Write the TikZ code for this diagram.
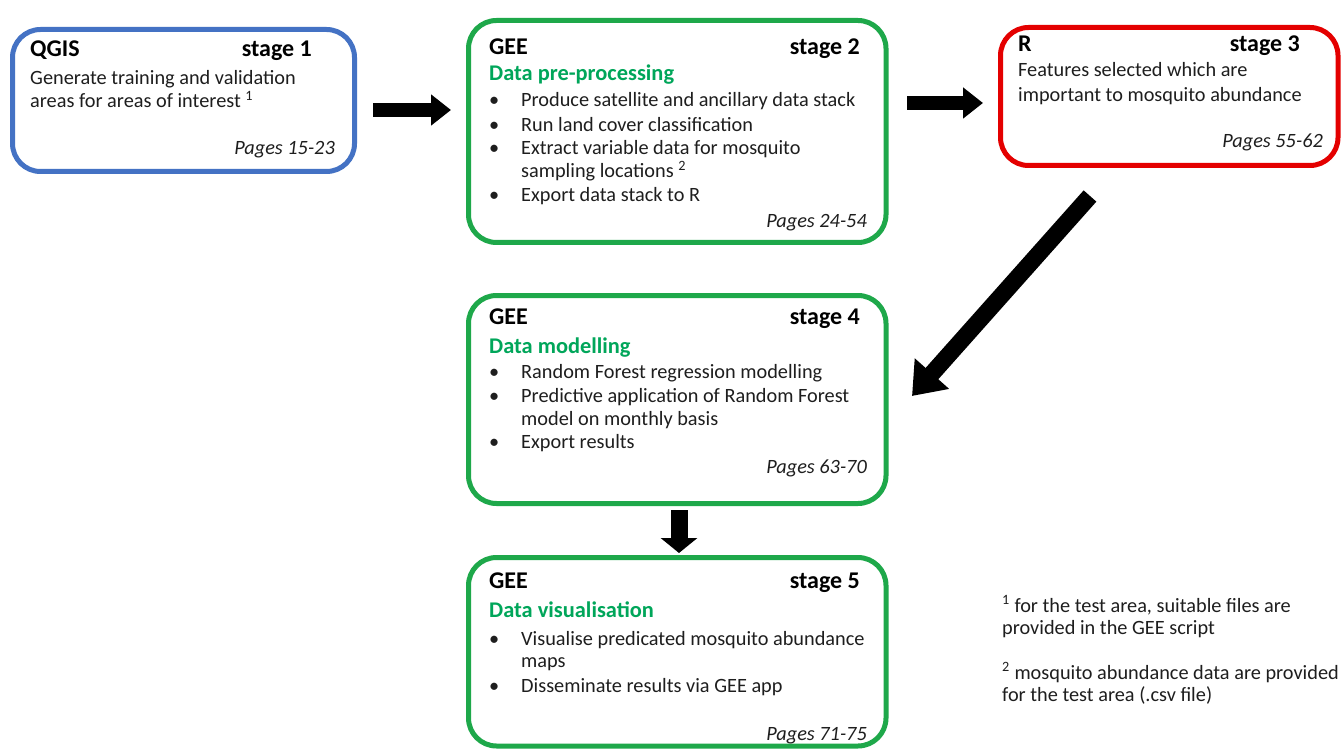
\documentclass[tikz,border=0pt]{standalone}
\usepackage{fontspec}
\setmainfont{Carlito}
\usetikzlibrary{arrows.meta}
\definecolor{bblue}{RGB}{68,114,196}
\definecolor{ggreen}{RGB}{30,168,74}
\definecolor{gtext}{RGB}{0,166,90}
\definecolor{rred}{RGB}{228,0,0}
\definecolor{txt}{RGB}{30,30,30}
\begin{document}
\begin{tikzpicture}[x=1pt,y=-1pt,
  stagebox/.style={draw, line width=5pt, rounded corners=28pt, fill=white, inner sep=0pt, outer sep=0pt},
  ttl/.style={font=\fontsize{24}{28}\selectfont\bfseries, anchor=base west, inner sep=0pt, text=black},
  ttlr/.style={ttl, anchor=base east},
  sub/.style={font=\fontsize{22.4}{26}\selectfont\bfseries, anchor=base west, inner sep=0pt, text=gtext},
  body/.style={font=\fontsize{20.3}{24}\selectfont, anchor=base west, inner sep=0pt, text=txt},
  pages/.style={font=\fontsize{20.3}{24}\selectfont\itshape, anchor=base east, inner sep=0pt, text=txt},
  blockarrow/.style={draw=black, line width=14pt, -{Triangle[length=20pt,width=30pt]}}
]
\useasboundingbox (0,0) rectangle (1343,751);
\fill[white] (0,0) rectangle (1343,751);

% boxes
\node[stagebox, draw=bblue, minimum width=342pt, minimum height=142pt] (b1) at (183.5,100.5) {};
\node[stagebox, draw=ggreen, minimum width=417.5pt, minimum height=222pt] (b2) at (677.25,131.5) {};
\node[stagebox, draw=rred, minimum width=337.5pt, minimum height=138pt] (b3) at (1169.25,96.5) {};
\node[stagebox, draw=ggreen, minimum width=417.5pt, minimum height=208pt] (b4) at (677.25,399.5) {};
\node[stagebox, draw=ggreen, minimum width=417.5pt, minimum height=188.5pt] (b5) at (677.25,651.75) {};

% stage 1
\node[ttl] (t1) at (30,57) {QGIS};
\node[ttlr] (s1) at (312,57) {stage 1};
\node[body] (l11) at (30,85) {Generate training and validation};
\node[body] (l12) at (30,108) {areas for areas of interest \textsuperscript{1}};
\node[pages] (p1) at (335,155) {Pages 15-23};

% stage 2
\node[ttl] (t2) at (489,55) {GEE};
\node[ttlr] (s2) at (860,55) {stage 2};
\node[sub] (d2) at (489,81) {Data pre-processing};
\foreach \y/\n in {107/a,132/b,155/c,202/d}{\node[body] (bu2\n) at (489,\y) {•};}
\node[body] (l21) at (521,107) {Produce satellite and ancillary data stack};
\node[body] (l22) at (521,132) {Run land cover classification};
\node[body] (l23) at (521,155) {Extract variable data for mosquito};
\node[body] (l24) at (521,178) {sampling locations \textsuperscript{2}};
\node[body] (l25) at (521,202) {Export data stack to R};
\node[pages] (p2) at (867,228) {Pages 24-54};

% stage 3
\node[ttl] (t3) at (1018,52) {R};
\node[ttlr] (s3) at (1300,52) {stage 3};
\node[body] (l31) at (1018,77) {Features selected which are};
\node[body] (l32) at (1018,102) {important to mosquito abundance};
\node[pages] (p3) at (1323,148) {Pages 55-62};

% stage 4
\node[ttl] (t4) at (489,324) {GEE};
\node[ttlr] (s4) at (860,324) {stage 4};
\node[sub] (d4) at (489,353) {Data modelling};
\foreach \y/\n in {378/a,402/b,448/c}{\node[body] (bu4\n) at (489,\y) {•};}
\node[body] (l41) at (521,378) {Random Forest regression modelling};
\node[body] (l42) at (521,402) {Predictive application of Random Forest};
\node[body] (l43) at (521,425) {model on monthly basis};
\node[body] (l44) at (521,448) {Export results};
\node[pages] (p4) at (867,473) {Pages 63-70};

% stage 5
\node[ttl] (t5) at (489,588) {GEE};
\node[ttlr] (s5) at (860,588) {stage 5};
\node[sub] (d5) at (489,617) {Data visualisation};
\foreach \y/\n in {645/a,692/b}{\node[body] (bu5\n) at (489,\y) {•};}
\node[body] (l51) at (521,645) {Visualise predicated mosquito abundance};
\node[body] (l52) at (521,667) {maps};
\node[body] (l53) at (521,692) {Disseminate results via GEE app};
\node[pages] (p5) at (867,740) {Pages 71-75};

% footnotes
\node[body] (f1) at (1002,612) {\textsuperscript{1} for the test area, suitable files are};
\node[body] (f2) at (1002,634) {provided in the GEE script};
\node[body] (f3) at (1002,679) {\textsuperscript{2} mosquito abundance data are provided};
\node[body] (f4) at (1002,701) {for the test area (.csv file)};

% arrows
\coordinate (a1s) at (373,110); \coordinate (a1e) at (451,110);
\coordinate (a2s) at (907,103); \coordinate (a2e) at (983,103);
\coordinate (a3s) at (1090,196); \coordinate (a3e) at (912,396);
\coordinate (a4s) at (679,510); \coordinate (a4e) at (679,553);
\draw[blockarrow] (a1s) -- (a1e);
\draw[blockarrow] (a2s) -- (a2e);
\draw[blockarrow, line width=17pt, -{Triangle[length=30pt,width=44pt]}] (a3s) -- (a3e);
\draw[blockarrow, line width=17pt, -{Triangle[length=15pt,width=36pt]}] (a4s) -- (a4e);
\end{tikzpicture}
\end{document}
